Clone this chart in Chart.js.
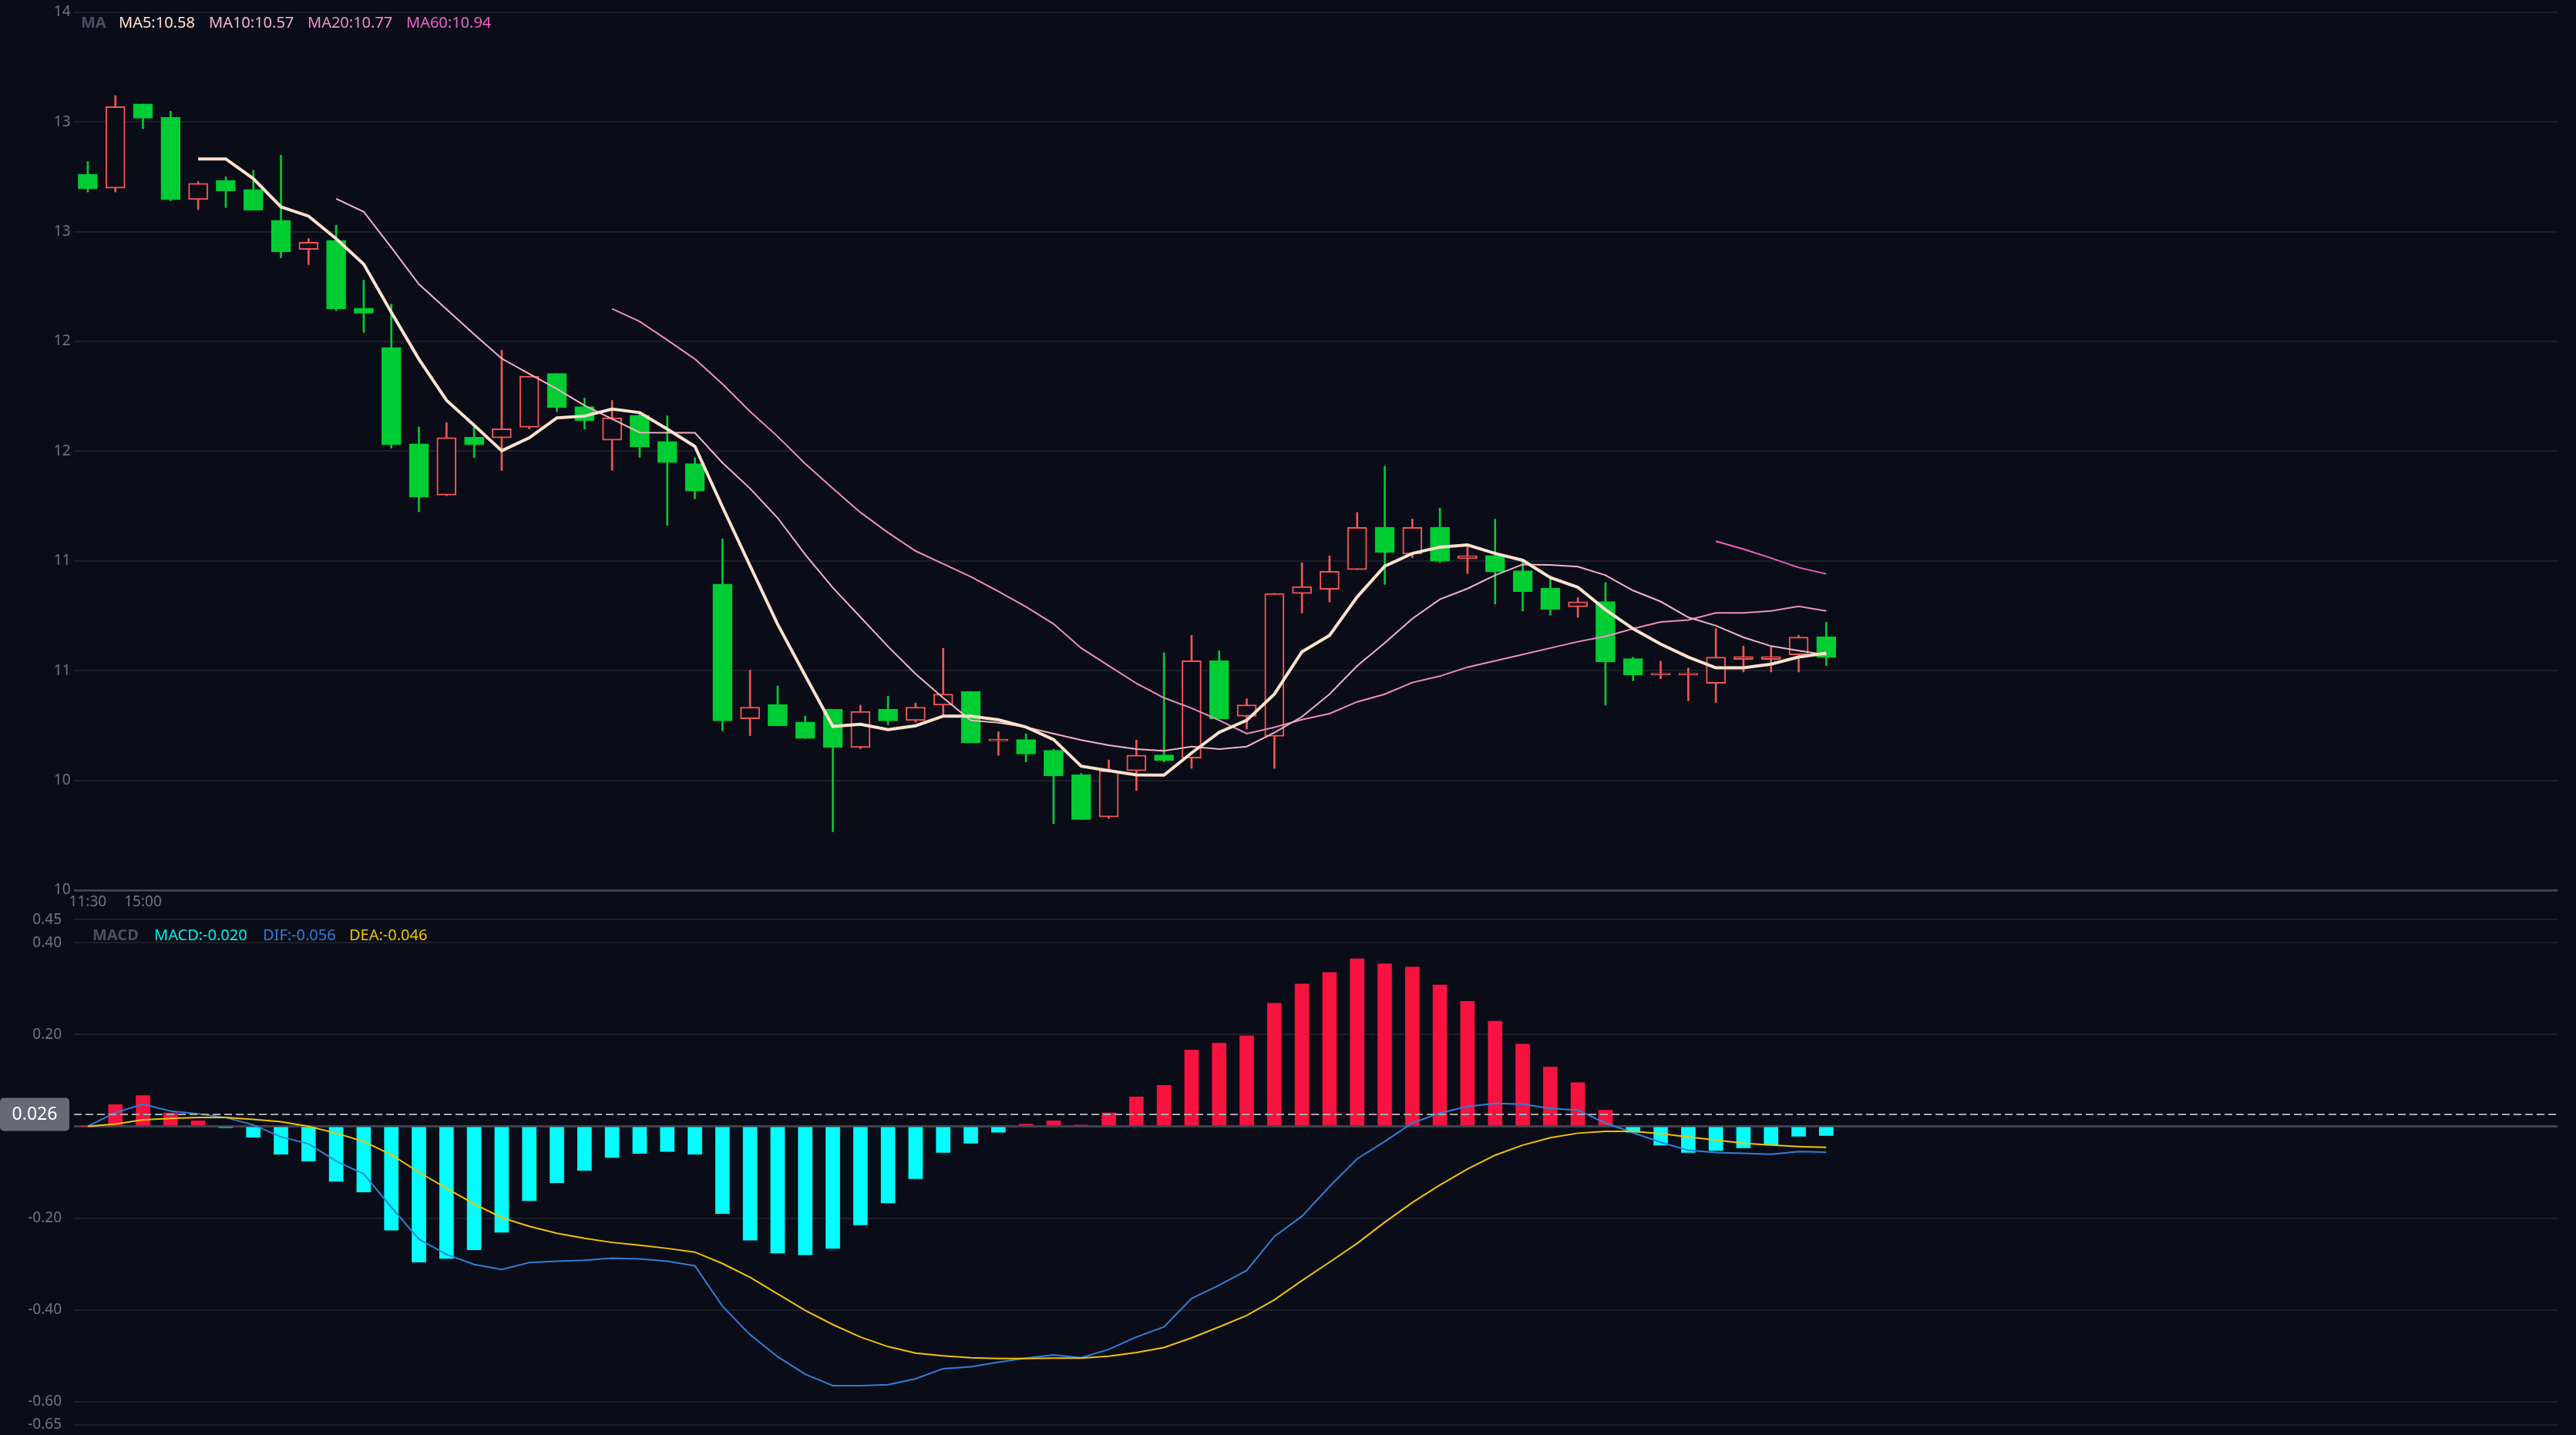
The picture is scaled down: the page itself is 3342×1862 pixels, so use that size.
<!DOCTYPE html>
<html>
<head>
<meta charset="utf-8">
<script src="https://cdn.jsdelivr.net/npm/chart.js@4.4.0/dist/chart.umd.min.js"></script>
<style>
  body { margin: 0; background: #0a0d18; width: 3342px; height: 1862px; overflow: hidden; position: relative; font-family: "Noto Sans", sans-serif; }
  canvas { position: absolute; left: 0; }
  #price { top: 0; }
  #macd { top: 1166px; }
  .lg { position: absolute; font-size: 20px; line-height: 24px; white-space: nowrap; }
</style>
</head>
<body>
<canvas id="price" width="3342" height="1190"></canvas>
<canvas id="macd" width="3342" height="710"></canvas>

<div class="lg" style="left:105px;top:17px;color:#4c505e;font-weight:bold">MA</div>
<div class="lg" id="lgMa5" style="left:154px;top:17px;color:#ffe2cd"></div>
<div class="lg" id="lgMa10" style="left:271px;top:17px;color:#f6b6c8"></div>
<div class="lg" id="lgMa20" style="left:399px;top:17px;color:#f38dc3"></div>
<div class="lg" id="lgMa60" style="left:527px;top:17px;color:#f062c4"></div>

<div class="lg" style="left:120px;top:1201px;color:#4c505e;font-weight:bold">MACD</div>
<div class="lg" id="lgMacd" style="left:200px;top:1201px;color:#00f0f0"></div>
<div class="lg" id="lgDif" style="left:341px;top:1201px;color:#2f7fd8"></div>
<div class="lg" id="lgDea" style="left:453px;top:1201px;color:#f2c200"></div>

<script>
// x axis: 90 slots, only two time labels are shown
const slotCount = 90;
const xTickText = ['11:30', '', '15:00'];

// candles
const opens = [12.762, 12.698, 13.082, 13.022, 12.647, 12.733, 12.693, 12.552, 12.419, 12.461,
  12.152, 11.973, 11.534, 11.300, 11.564, 11.561, 11.609, 11.854, 11.703, 11.550,
  11.664, 11.544, 11.443, 10.895, 10.281, 10.346, 10.266, 10.324, 10.150, 10.324,
  10.273, 10.343, 10.405, 10.180, 10.186, 10.137, 10.026, 9.833, 10.044, 10.116,
  10.102, 10.545, 10.292, 10.201, 10.851, 10.871, 10.960, 11.154, 11.031, 11.154,
  11.011, 11.025, 10.955, 10.875, 10.791, 10.815, 10.555, 10.480, 10.480, 10.442,
  10.551, 10.551, 10.572, 10.654];
const highs = [12.820, 13.120, 13.082, 13.049, 12.729, 12.750, 12.780, 12.849, 12.469, 12.530,
  12.279, 12.170, 11.610, 11.630, 11.610, 11.960, 11.842, 11.854, 11.742, 11.731,
  11.676, 11.661, 11.470, 11.100, 10.502, 10.430, 10.293, 10.324, 10.343, 10.383,
  10.353, 10.602, 10.405, 10.222, 10.212, 10.142, 10.032, 10.093, 10.184, 10.582,
  10.661, 10.591, 10.372, 10.852, 10.991, 11.023, 11.221, 11.431, 11.191, 11.241,
  11.072, 11.190, 11.002, 10.932, 10.833, 10.901, 10.561, 10.543, 10.512, 10.692,
  10.612, 10.612, 10.661, 10.721];
const lows = [12.681, 12.681, 12.970, 12.641, 12.601, 12.610, 12.598, 12.381, 12.350, 12.140,
  12.041, 11.514, 11.224, 11.297, 11.471, 11.412, 11.601, 11.681, 11.601, 11.413,
  11.472, 11.162, 11.283, 10.226, 10.204, 10.249, 10.191, 9.766, 10.144, 10.254,
  10.266, 10.293, 10.171, 10.114, 10.084, 9.803, 9.822, 9.826, 9.954, 10.084,
  10.055, 10.281, 10.234, 10.055, 10.763, 10.813, 10.960, 10.893, 11.015, 10.992,
  10.942, 10.804, 10.772, 10.753, 10.743, 10.343, 10.454, 10.463, 10.363, 10.355,
  10.494, 10.494, 10.494, 10.524];
const closes = [12.696, 13.070, 13.017, 12.646, 12.721, 12.686, 12.598, 12.408, 12.452, 12.148,
  12.129, 11.529, 11.290, 11.562, 11.529, 11.602, 11.842, 11.699, 11.639, 11.652,
  11.519, 11.448, 11.318, 10.271, 10.334, 10.249, 10.191, 10.150, 10.314, 10.271,
  10.334, 10.393, 10.171, 10.188, 10.120, 10.020, 9.822, 10.044, 10.115, 10.090,
  10.545, 10.281, 10.344, 10.852, 10.883, 10.953, 11.153, 11.039, 11.153, 10.999,
  11.024, 10.950, 10.860, 10.779, 10.814, 10.540, 10.480, 10.488, 10.488, 10.562,
  10.565, 10.565, 10.653, 10.560];

// moving averages (first point index in the comment)
const ma5 = [12.832, 12.832, 12.742, 12.613, 12.571, 12.468, 12.352, 12.133, 11.919, 11.732, // from 4
  11.618, 11.502, 11.561, 11.652, 11.660, 11.692, 11.676, 11.601, 11.522, 11.246,
  10.978, 10.711, 10.477, 10.246, 10.256, 10.231, 10.249, 10.293, 10.293, 10.276,
  10.243, 10.186, 10.065, 10.044, 10.025, 10.024, 10.125, 10.219, 10.274, 10.393,
  10.586, 10.661, 10.836, 10.976, 11.034, 11.063, 11.073, 11.034, 11.003, 10.924,
  10.880, 10.778, 10.691, 10.621, 10.562, 10.513, 10.513, 10.530, 10.562, 10.580];
const ma10 = [12.650, 12.591, 12.428, 12.261, 12.147, 12.033, 11.922, 11.852, 11.784, 11.708, // from 9
  11.647, 11.585, 11.584, 11.584, 11.447, 11.330, 11.196, 11.029, 10.878, 10.744,
  10.610, 10.485, 10.376, 10.273, 10.263, 10.243, 10.213, 10.184, 10.160, 10.143,
  10.135, 10.154, 10.143, 10.154, 10.218, 10.290, 10.393, 10.522, 10.626, 10.737,
  10.825, 10.874, 10.935, 10.984, 10.982, 10.974, 10.935, 10.865, 10.815, 10.743,
  10.705, 10.652, 10.612, 10.591, 10.572];
const ma20 = [12.149, 12.091, 12.007, 11.920, 11.806, 11.681, 11.567, 11.443, 11.330, 11.221, // from 19
  11.129, 11.045, 10.987, 10.928, 10.861, 10.791, 10.713, 10.603, 10.522, 10.442,
  10.376, 10.329, 10.274, 10.213, 10.242, 10.277, 10.304, 10.358, 10.393, 10.446,
  10.475, 10.516, 10.545, 10.574, 10.603, 10.632, 10.656, 10.691, 10.722, 10.731,
  10.763, 10.763, 10.772, 10.793, 10.772];
const ma60 = [11.090, 11.054, 11.013, 10.970, 10.941]; // from 59

// MACD panel
const macdHist = [0, 0.047, 0.067, 0.029, 0.012, -0.003, -0.024, -0.061, -0.076, -0.120,
  -0.143, -0.226, -0.296, -0.288, -0.269, -0.231, -0.162, -0.123, -0.096, -0.068,
  -0.059, -0.055, -0.061, -0.190, -0.248, -0.276, -0.280, -0.266, -0.215, -0.167,
  -0.114, -0.057, -0.037, -0.013, 0.005, 0.012, 0.002, 0.029, 0.064, 0.089,
  0.166, 0.181, 0.197, 0.268, 0.310, 0.335, 0.365, 0.354, 0.347, 0.308,
  0.272, 0.229, 0.179, 0.129, 0.095, 0.035, -0.013, -0.041, -0.057, -0.053,
  -0.047, -0.041, -0.022, -0.020];
const dif = [0, 0.030, 0.048, 0.033, 0.027, 0.019, 0.003, -0.023, -0.038, -0.076,
  -0.104, -0.176, -0.246, -0.279, -0.301, -0.312, -0.297, -0.294, -0.292, -0.287,
  -0.289, -0.294, -0.304, -0.392, -0.454, -0.502, -0.540, -0.565, -0.565, -0.563,
  -0.550, -0.528, -0.524, -0.514, -0.505, -0.498, -0.504, -0.486, -0.459, -0.437,
  -0.375, -0.346, -0.314, -0.240, -0.196, -0.131, -0.071, -0.033, 0.007, 0.029,
  0.043, 0.050, 0.048, 0.039, 0.035, 0.007, -0.014, -0.035, -0.052, -0.057,
  -0.059, -0.061, -0.055, -0.0562];
const dea = [0, 0.005, 0.014, 0.017, 0.019, 0.019, 0.015, 0.010, 0.000, -0.015,
  -0.033, -0.062, -0.100, -0.135, -0.169, -0.199, -0.218, -0.233, -0.244, -0.253,
  -0.259, -0.266, -0.274, -0.299, -0.329, -0.365, -0.401, -0.432, -0.459, -0.480,
  -0.494, -0.500, -0.504, -0.506, -0.506, -0.505, -0.505, -0.501, -0.493, -0.482,
  -0.461, -0.437, -0.412, -0.378, -0.336, -0.296, -0.255, -0.209, -0.166, -0.128,
  -0.093, -0.063, -0.041, -0.025, -0.015, -0.011, -0.011, -0.016, -0.023, -0.030,
  -0.037, -0.041, -0.044, -0.0458];
const macdTicks = [0.45, 0.40, 0.20, 0, -0.20, -0.40, -0.60, -0.65];
const markerValue = 0.026;

const BG = '#0a0d18';
const UP = '#f45454';
const DOWN = '#00cc33';
const GRID = '#1d1f29';
const AXIS = '#3f424d';
const LABEL = '#70747f';

Chart.defaults.font.family = '"Noto Sans", sans-serif';

const xLabels = Array.from({ length: slotCount }, (_, i) => xTickText[i] || '');
const pad = (arr, start) => Array(start).fill(null).concat(arr);
const isUp = closes.map((c, i) => c >= opens[i]);

document.getElementById('lgMa5').textContent = 'MA5:' + ma5[ma5.length - 1].toFixed(2);
document.getElementById('lgMa10').textContent = 'MA10:' + ma10[ma10.length - 1].toFixed(2);
document.getElementById('lgMa20').textContent = 'MA20:' + ma20[ma20.length - 1].toFixed(2);
document.getElementById('lgMa60').textContent = 'MA60:' + ma60[ma60.length - 1].toFixed(2);
document.getElementById('lgMacd').textContent = 'MACD:' + macdHist[macdHist.length - 1].toFixed(3);
document.getElementById('lgDif').textContent = 'DIF:' + dif[dif.length - 1].toFixed(3);
document.getElementById('lgDea').textContent = 'DEA:' + dea[dea.length - 1].toFixed(3);

const lineStyle = (data, color, width, order) => ({
  type: 'line', data, borderColor: color, borderWidth: width,
  pointRadius: 0, tension: 0, order
});

const priceChart = new Chart(document.getElementById('price'), {
  type: 'bar',
  data: {
    labels: xLabels,
    datasets: [
      {
        data: lows.map((l, i) => [l, highs[i]]),
        backgroundColor: isUp.map(u => u ? UP : DOWN),
        barThickness: 2, grouped: false, order: 6
      },
      {
        data: opens.map((o, i) => [o, closes[i]]),
        backgroundColor: isUp.map(u => u ? BG : DOWN),
        borderColor: isUp.map(u => u ? UP : DOWN),
        borderWidth: 2, borderSkipped: false,
        barThickness: 25, grouped: false, order: 5
      },
      lineStyle(pad(ma60, 59), '#f062c4', 2, 4),
      lineStyle(pad(ma20, 19), '#f08cc2', 2, 3),
      lineStyle(pad(ma10, 9), '#f2b4c4', 2, 2),
      lineStyle(pad(ma5, 4), '#ffe2cd', 4, 1)
    ]
  },
  options: {
    responsive: false,
    animation: false,
    layout: { padding: { top: 11.5, right: 24, left: 0, bottom: 0 } },
    plugins: { legend: { display: false }, tooltip: { enabled: false } },
    scales: {
      x: {
        grid: { display: false },
        border: { display: false },
        ticks: {
          autoSkip: false, maxRotation: 0, padding: -4,
          color: LABEL, font: { size: 19 },
          callback: (v, i) => xLabels[i]
        },
        afterFit: s => { s.height = 35; }
      },
      y: {
        min: 9.5, max: 13.5,
        border: { display: false },
        grid: {
          drawTicks: false,
          color: c => c.tick.value === 9.5 ? AXIS : GRID,
          lineWidth: c => c.tick.value === 9.5 ? 3 : 2
        },
        ticks: {
          stepSize: 0.5, padding: 4.5,
          color: LABEL, font: { size: 19 },
          callback: v => v.toFixed(0)
        },
        afterFit: s => { s.width = 96; }
      }
    }
  }
});

// dashed marker line and value box on the MACD panel
const markerPlugin = {
  id: 'marker',
  afterDraw(chart) {
    const { ctx, chartArea, scales } = chart;
    const y = scales.y.getPixelForValue(markerValue);
    ctx.save();
    ctx.strokeStyle = '#a8a8ae';
    ctx.lineWidth = 2;
    ctx.setLineDash([10, 5]);
    ctx.beginPath();
    ctx.moveTo(chartArea.left, y);
    ctx.lineTo(chartArea.right, y);
    ctx.stroke();
    ctx.setLineDash([]);
    ctx.fillStyle = '#676a75';
    ctx.beginPath();
    ctx.roundRect(0, y - 21.5, 90, 43, 5);
    ctx.fill();
    ctx.fillStyle = '#ffffff';
    ctx.font = '23px "Noto Sans", sans-serif';
    ctx.textAlign = 'center';
    ctx.textBaseline = 'middle';
    ctx.fillText(markerValue.toFixed(3), 45, y + 1);
    ctx.restore();
  }
};

const macdChart = new Chart(document.getElementById('macd'), {
  type: 'bar',
  data: {
    labels: xLabels,
    datasets: [
      lineStyle(dea, '#f2c200', 2, 0),
      lineStyle(dif, '#2f7fd8', 2, 1),
      {
        data: macdHist,
        backgroundColor: macdHist.map(v => v >= 0 ? '#f8123f' : '#00ffff'),
        barThickness: 18, order: 2
      }
    ]
  },
  options: {
    responsive: false,
    animation: false,
    layout: { padding: { top: 0, right: 24, left: 0, bottom: 0 } },
    plugins: { legend: { display: false }, tooltip: { enabled: false } },
    scales: {
      x: { display: false },
      y: {
        min: -0.65, max: 0.45,
        border: { display: false },
        afterBuildTicks: s => { s.ticks = macdTicks.map(v => ({ value: v })); },
        grid: {
          drawTicks: false,
          color: c => c.tick.value === 0 ? AXIS : GRID,
          lineWidth: c => c.tick.value === 0 ? 3 : 2
        },
        ticks: {
          padding: 16,
          color: LABEL, font: { size: 19 },
          callback: v => v.toFixed(2)
        },
        afterFit: s => { s.width = 96; }
      }
    }
  },
  plugins: [markerPlugin]
});
</script>
</body>
</html>
